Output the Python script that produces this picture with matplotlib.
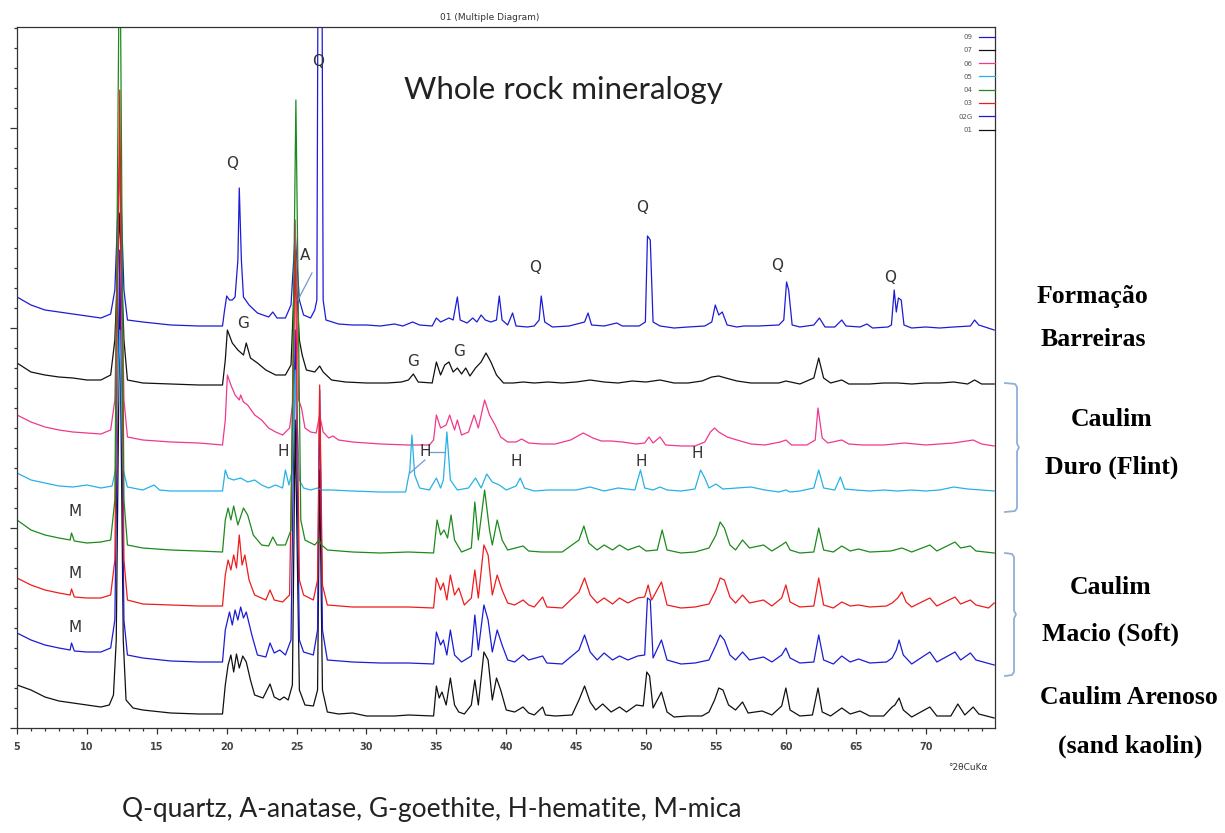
import matplotlib
matplotlib.use("Agg")
import matplotlib.pyplot as plt
from matplotlib.ticker import MultipleLocator
from matplotlib.lines import Line2D

# (2theta, intensity) vertices, top to bottom
scan_09 = [(5, 431), (6, 423), (7, 418), (8, 416), (9, 414), (10, 412), (11, 410), (11.7, 414), (12.0, 438), (12.35, 568),
           (12.65, 438), (12.9, 408), (14, 406), (16, 403), (18, 402), (19.7, 402), (19.85, 418), (20.0, 432), (20.2, 428),
           (20.4, 428), (20.6, 431), (20.8, 468), (20.9, 540), (21.05, 468), (21.2, 431), (21.6, 423), (22.2, 415), (23, 411),
           (23.3, 416), (23.6, 410), (24.2, 410), (24.6, 423), (24.9, 493), (25.2, 428), (25.5, 413), (26.0, 410), (26.3, 418),
           (26.45, 428), (26.55, 828), (26.8, 828), (26.9, 428), (27.1, 408), (28, 404), (29, 403), (30, 403), (31, 402),
           (32, 404), (32.6, 402), (33.3, 406), (33.8, 403), (34.7, 402), (35.0, 410), (35.3, 406), (35.6, 408), (35.9, 410),
           (36.2, 408), (36.5, 431), (36.7, 408), (37.2, 405), (37.6, 410), (37.9, 406), (38.2, 413), (38.5, 408), (38.9, 406),
           (39.3, 408), (39.5, 432), (39.7, 408), (40.1, 403), (40.45, 415), (40.7, 402), (41.5, 401), (42.0, 402), (42.35, 408),
           (42.5, 432), (42.75, 406), (43.3, 401), (44.5, 402), (45.6, 406), (45.85, 415), (46.1, 403), (47, 402), (47.9, 405),
           (48.3, 402), (49.5, 402), (49.95, 406), (50.1, 492), (50.3, 488), (50.5, 406), (51, 402), (52, 400), (53, 401),
           (54.2, 402), (54.7, 406), (54.95, 423), (55.2, 413), (55.45, 416), (55.8, 403), (56.5, 401), (57, 402), (58, 402),
           (59.5, 403), (59.85, 408), (60.05, 446), (60.2, 438), (60.45, 403), (61, 401), (62.0, 403), (62.4, 410), (62.8, 401),
           (63.5, 401), (64.0, 408), (64.3, 402), (65.3, 401), (65.8, 404), (66.2, 400), (67.3, 401), (67.55, 403), (67.75, 438),
           (67.9, 416), (68.05, 430), (68.25, 428), (68.45, 403), (69, 400), (70, 401), (71, 400), (72, 401), (73.2, 402),
           (73.5, 408), (73.8, 403), (74.9, 398)]

scan_07 = [(5, 365), (6, 356), (7, 353), (8, 351), (9, 350), (10, 348), (11, 348), (11.7, 353), (12.0, 388), (12.35, 515),
           (12.65, 388), (12.9, 348), (14, 345), (16, 344), (18, 343), (19.7, 343), (19.9, 368), (20.05, 398), (20.4, 385),
           (20.8, 378), (21.2, 373), (21.4, 385), (21.7, 370), (22.2, 365), (22.8, 358), (23.5, 353), (24.2, 353), (24.6, 363),
           (24.9, 468), (25.2, 388), (25.4, 373), (25.7, 358), (26.3, 356), (26.65, 362), (26.9, 356), (27.5, 348), (28.5, 346),
           (30, 345), (31.5, 345), (32.5, 346), (33.0, 348), (33.35, 354), (33.7, 346), (34.7, 345), (35.0, 366), (35.3, 353),
           (35.6, 363), (35.9, 366), (36.2, 356), (36.5, 360), (36.8, 354), (37.1, 360), (37.4, 352), (37.8, 360), (38.2, 366),
           (38.55, 375), (38.9, 366), (39.3, 353), (39.8, 345), (40.5, 345), (41.2, 346), (42, 345), (43, 346), (44, 345),
           (45, 346), (46, 348), (47, 346), (48, 345), (49, 347), (50, 346), (51, 348), (52, 345), (53, 345), (54, 347),
           (54.7, 351), (55.2, 352), (55.7, 350), (56.5, 347), (57.5, 345), (58.5, 345), (59.5, 345), (60.0, 347), (61, 344),
           (62.0, 350), (62.35, 370), (62.7, 350), (63.2, 345), (64.0, 348), (64.5, 344), (66, 344), (67, 345), (68, 345),
           (69, 344), (70, 345), (71, 345), (72, 346), (73, 344), (73.5, 348), (74, 344), (74.9, 344)]

scan_06 = [(5, 313), (6, 306), (7, 301), (8, 298), (9, 296), (10, 295), (11, 294), (11.7, 298), (12.0, 328), (12.35, 578),
           (12.65, 328), (12.9, 291), (14, 288), (16, 286), (18, 285), (19.7, 283), (19.9, 308), (20.05, 353), (20.3, 343),
           (20.6, 333), (20.9, 328), (21.0, 333), (21.2, 326), (21.5, 323), (22, 313), (22.5, 308), (23, 300), (23.5, 296),
           (24.0, 293), (24.5, 300), (24.75, 328), (24.9, 508), (25.15, 328), (25.35, 320), (25.6, 300), (26.0, 296),
           (26.4, 295), (26.65, 313), (26.9, 296), (27.3, 290), (27.6, 292), (28, 288), (29, 286), (31, 284), (33, 283),
           (34.5, 283), (34.8, 288), (35.0, 313), (35.3, 300), (35.7, 303), (35.95, 313), (36.3, 298), (36.5, 308), (36.8, 293),
           (37.3, 296), (37.7, 313), (38.0, 300), (38.45, 328), (38.8, 313), (39.2, 303), (39.6, 291), (40.1, 286), (40.7, 286),
           (41.1, 289), (41.6, 285), (42.5, 284), (43.5, 284), (44.6, 288), (45.5, 295), (46.2, 290), (46.8, 287), (47.5, 287),
           (48.3, 286), (49.3, 284), (49.9, 285), (50.2, 291), (50.5, 285), (51.0, 291), (51.4, 283), (52.5, 282), (53.5, 282),
           (54.2, 286), (54.6, 296), (54.9, 300), (55.2, 296), (55.8, 291), (56.5, 288), (57.5, 284), (58.5, 283), (59.6, 286),
           (60.0, 288), (60.4, 283), (61.5, 283), (62.1, 288), (62.3, 320), (62.6, 290), (63.0, 285), (64.0, 288), (64.5, 284),
           (65.5, 283), (67, 283), (68.5, 285), (70, 283), (72, 285), (73.4, 288), (74, 284), (74.9, 282)]

scan_05 = [(5, 255), (6, 248), (7, 245), (8, 242), (9, 241), (10, 243), (11, 240), (11.8, 242), (12.05, 258), (12.35, 398),
           (12.6, 258), (12.9, 241), (14, 238), (14.8, 243), (15.2, 238), (16, 237), (18, 237), (19.7, 237), (19.9, 258),
           (20.1, 250), (20.5, 248), (21, 250), (21.5, 246), (22, 248), (22.5, 243), (23, 240), (23.5, 243), (24.0, 240),
           (24.2, 258), (24.45, 243), (24.7, 258), (24.9, 358), (25.2, 248), (25.5, 240), (26, 238), (26.5, 240), (26.8, 238),
           (27.5, 238), (29, 237), (31, 236), (32.8, 236), (33.1, 258), (33.25, 293), (33.45, 253), (33.8, 240), (34.5, 238),
           (35.0, 250), (35.3, 240), (35.5, 248), (35.75, 296), (36.0, 248), (36.5, 238), (37.3, 240), (37.8, 250), (38.2, 240),
           (38.6, 254), (39.0, 246), (39.5, 243), (40.0, 238), (40.7, 242), (41.0, 250), (41.3, 240), (42, 237), (43, 238),
           (45, 238), (46, 241), (47, 237), (48, 240), (49.2, 238), (49.6, 258), (49.9, 240), (50.5, 238), (51.0, 241),
           (51.5, 238), (52.5, 237), (53.5, 239), (53.9, 258), (54.2, 250), (54.5, 240), (55.0, 244), (55.5, 239), (56.5, 240),
           (57.5, 241), (58.5, 238), (59.5, 236), (60.0, 238), (60.3, 236), (61, 237), (62.0, 240), (62.35, 258), (62.7, 240),
           (63.5, 238), (63.9, 251), (64.2, 239), (65, 238), (66, 237), (67, 238), (68, 237), (69, 238), (70, 237), (71, 238),
           (72, 241), (73, 239), (74, 238), (74.9, 237)]

scan_04 = [(5, 208), (6, 198), (7, 193), (8, 190), (8.8, 188), (8.9, 195), (9.1, 187), (10, 185), (11, 186), (11.7, 188),
           (12.0, 228), (12.35, 828), (12.65, 228), (12.9, 183), (14, 180), (16, 178), (18, 177), (19.7, 176), (19.9, 208),
           (20.1, 220), (20.3, 208), (20.5, 222), (20.8, 203), (21.2, 220), (21.5, 213), (21.9, 193), (22.5, 183), (23.0, 182),
           (23.3, 191), (23.6, 183), (24.2, 183), (24.6, 198), (24.95, 628), (25.3, 208), (25.6, 188), (26.3, 183), (26.6, 188),
           (26.8, 183), (27.2, 178), (29, 176), (31, 175), (33, 176), (34.8, 175), (35.05, 208), (35.3, 193), (35.55, 198),
           (35.8, 190), (36.05, 213), (36.3, 188), (36.8, 176), (37.5, 180), (37.75, 226), (38.0, 188), (38.45, 238),
           (38.8, 198), (39.0, 183), (39.35, 208), (39.7, 188), (40.1, 178), (41.2, 182), (41.6, 177), (42.5, 176), (44, 176),
           (45.2, 188), (45.55, 202), (45.9, 185), (46.5, 178), (47, 183), (47.6, 178), (48.1, 183), (48.7, 178), (49.5, 182),
           (50.0, 177), (50.8, 178), (51.15, 198), (51.5, 178), (52.5, 175), (53.5, 176), (54.5, 180), (55.0, 193), (55.3, 206),
           (55.6, 200), (56, 183), (56.4, 178), (56.9, 188), (57.4, 180), (58.4, 183), (59.0, 177), (59.7, 183), (60.0, 186),
           (60.3, 178), (61, 175), (62, 176), (62.35, 200), (62.7, 178), (63.4, 176), (64, 182), (64.6, 177), (65.2, 179),
           (66, 176), (67.5, 177), (68.3, 180), (69, 176), (70.3, 183), (70.8, 177), (72.1, 186), (72.5, 180), (73.2, 182),
           (73.6, 177), (74.9, 175)]

scan_03 = [(5, 150), (6, 143), (7, 138), (8, 135), (8.8, 133), (8.9, 139), (9.1, 131), (10, 130), (11, 130), (11.7, 133),
           (12.0, 168), (12.35, 638), (12.65, 168), (12.9, 128), (14, 124), (16, 123), (18, 122), (19.7, 122), (19.9, 153),
           (20.1, 168), (20.3, 158), (20.5, 173), (20.7, 160), (20.9, 193), (21.1, 163), (21.3, 173), (21.6, 148), (22, 133),
           (22.8, 128), (23.1, 138), (23.4, 128), (24.0, 126), (24.5, 133), (24.9, 478), (25.2, 148), (25.5, 133), (26.2, 128),
           (26.5, 148), (26.65, 343), (26.85, 143), (27.2, 123), (29, 121), (31, 121), (33, 121), (34.8, 120), (35.0, 150),
           (35.3, 138), (35.5, 145), (35.75, 128), (36.0, 153), (36.3, 133), (36.6, 140), (37.0, 123), (37.5, 130), (37.75, 158),
           (38.0, 130), (38.4, 183), (38.7, 173), (39.0, 133), (39.35, 153), (39.7, 138), (40.1, 125), (40.6, 123), (41.2, 128),
           (41.6, 123), (42.0, 121), (42.6, 131), (42.9, 121), (44, 120), (45.2, 136), (45.6, 150), (46, 133), (46.5, 125),
           (47, 130), (47.6, 124), (48.1, 130), (48.7, 125), (49.4, 130), (49.9, 131), (50.15, 143), (50.4, 128), (51.1, 146),
           (51.5, 123), (52.5, 120), (53.5, 121), (54.5, 124), (55.0, 138), (55.3, 150), (55.6, 148), (56, 131), (56.4, 125),
           (56.9, 133), (57.4, 125), (58.4, 128), (59.0, 122), (59.7, 130), (60.0, 143), (60.3, 126), (61, 121), (62, 122),
           (62.35, 150), (62.7, 123), (63.4, 120), (64, 126), (64.6, 122), (65.2, 123), (66, 121), (67.2, 122), (67.6, 125),
           (68.0, 130), (68.3, 136), (68.6, 126), (69, 121), (70.3, 130), (70.8, 122), (72.1, 131), (72.5, 124), (73.2, 128),
           (73.6, 123), (74.5, 120), (74.9, 125)]

scan_02G = [(5, 95), (6, 88), (7, 83), (8, 80), (8.8, 78), (8.9, 85), (9.1, 77), (10, 76), (11, 76), (11.7, 80), (12.0, 108),
            (12.35, 478), (12.65, 108), (12.9, 73), (14, 70), (16, 67), (18, 66), (19.7, 66), (19.9, 98), (20.2, 116),
            (20.4, 103), (20.6, 118), (20.8, 108), (21.0, 121), (21.2, 110), (21.4, 116), (21.8, 93), (22.2, 73), (22.8, 71),
            (23.1, 85), (23.4, 75), (23.8, 78), (24.2, 73), (24.6, 88), (24.9, 398), (25.2, 88), (25.5, 76), (26.2, 73),
            (26.5, 98), (26.65, 338), (26.85, 98), (27.2, 68), (29, 66), (31, 65), (33, 65), (34.8, 64), (35.0, 96), (35.3, 83),
            (35.5, 88), (35.75, 73), (36.0, 98), (36.3, 73), (36.8, 66), (37.5, 72), (37.75, 113), (38.0, 78), (38.4, 123),
            (38.7, 108), (39.0, 76), (39.35, 98), (39.7, 83), (40.1, 68), (40.6, 66), (41.2, 73), (41.6, 68), (42.6, 72),
            (42.9, 65), (44, 64), (45.2, 78), (45.6, 93), (46, 76), (46.5, 68), (47, 75), (47.6, 68), (48.1, 72), (48.7, 68),
            (49.4, 72), (49.9, 73), (50.1, 130), (50.3, 128), (50.5, 70), (51.1, 88), (51.5, 68), (52.5, 64), (53.5, 65),
            (54.5, 68), (55.0, 83), (55.3, 93), (55.6, 88), (56, 73), (56.4, 68), (56.9, 76), (57.4, 68), (58.4, 71), (59.0, 66),
            (59.7, 73), (60.0, 80), (60.3, 70), (61, 65), (62, 66), (62.35, 93), (62.7, 68), (63.4, 64), (64, 72), (64.6, 66),
            (65.2, 69), (66, 65), (67.2, 66), (67.6, 70), (67.9, 78), (68.1, 88), (68.4, 73), (69, 64), (70.3, 76), (70.8, 66),
            (72.1, 76), (72.5, 68), (73.2, 75), (73.6, 68), (74.9, 63)]

scan_01 = [(5, 43), (6, 38), (7, 31), (8, 27), (9, 25), (10, 23), (11, 21), (11.6, 23), (11.9, 33), (12.1, 88), (12.35, 428),
           (12.6, 88), (12.8, 28), (13.3, 20), (14, 18), (16, 15), (18, 14), (19.7, 14), (19.9, 43), (20.1, 63), (20.3, 73),
           (20.5, 56), (20.7, 74), (20.9, 60), (21.15, 72), (21.4, 66), (21.7, 48), (22, 33), (22.6, 30), (23.1, 44), (23.4, 31),
           (23.8, 28), (24.1, 31), (24.4, 28), (24.7, 43), (24.9, 308), (25.2, 38), (25.6, 23), (26.2, 22), (26.5, 38),
           (26.65, 258), (26.85, 38), (27.2, 16), (28, 14), (29, 15), (30, 12), (32, 12), (33, 13), (34.8, 12), (35.0, 42),
           (35.2, 30), (35.4, 36), (35.7, 23), (36.0, 50), (36.3, 23), (36.6, 16), (37.0, 14), (37.5, 23), (37.75, 48),
           (38.0, 23), (38.4, 76), (38.7, 68), (39.0, 28), (39.3, 50), (39.6, 38), (40.0, 18), (40.6, 16), (41.2, 21),
           (41.6, 15), (42.0, 13), (42.6, 21), (42.8, 13), (43.5, 12), (44.7, 13), (45.2, 28), (45.6, 42), (46.0, 26),
           (46.4, 18), (46.9, 24), (47.5, 16), (48.1, 21), (48.6, 16), (49.3, 23), (49.8, 22), (50.05, 56), (50.25, 52),
           (50.5, 20), (51.1, 36), (51.5, 16), (52, 11), (53, 12), (54, 12), (54.5, 16), (54.9, 28), (55.2, 40), (55.5, 38),
           (55.9, 23), (56.4, 18), (56.9, 26), (57.3, 15), (58.3, 17), (59.0, 13), (59.7, 22), (60.0, 40), (60.3, 18), (61, 12),
           (61.9, 13), (62.3, 40), (62.6, 16), (63.2, 12), (64, 20), (64.6, 14), (65.3, 17), (66, 12), (67, 12), (67.6, 21),
           (67.8, 23), (68.1, 30), (68.4, 18), (69, 11), (70.3, 21), (70.8, 12), (71.8, 12), (72.3, 24), (72.8, 13), (73.4, 21),
           (73.8, 14), (74.9, 10)]

scan_names = ["09", "07", "06", "05", "04", "03", "02G", "01"]
scan_colors = ["#1c1cd6", "#111111", "#f0388c", "#27b1e6", "#1d8a1d", "#ee1c1c", "#1c1cd6", "#111111"]
scans = [scan_09, scan_07, scan_06, scan_05, scan_04, scan_03, scan_02G, scan_01]
draw_order = [7, 6, 0, 1, 2, 3, 5, 4]

# mineral peak labels: (letter, 2theta, intensity)
peak_labels = [("Q", 20.38, 565), ("Q", 26.53, 666), ("Q", 42.05, 460), ("Q", 49.71, 520), ("Q", 59.36, 463),
               ("Q", 67.45, 451), ("G", 21.17, 405), ("G", 33.33, 366), ("G", 36.62, 376), ("A", 25.6, 473),
               ("H", 24.03, 277), ("H", 34.18, 276), ("H", 40.69, 266), ("H", 49.64, 266), ("H", 53.64, 275),
               ("M", 9.15, 217), ("M", 9.15, 155), ("M", 9.15, 101)]

group_labels = [("Formação", 1092, 296), ("Barreiras", 1093, 340), ("Caulim", 1112, 420), ("Duro (Flint)", 1112, 467),
                ("Caulim", 1111, 587), ("Macio (Soft)", 1110, 634), ("Caulim Arenoso", 1129, 698),
                ("(sand kaolin)", 1130, 746)]

W, H = 1225, 833
fig = plt.figure(figsize=(W / 100, H / 100), dpi=100)
ax = fig.add_axes([17 / W, 1 - 728 / H, (995 - 17) / W, (728 - 27) / H])

lines = {}
for i in draw_order:
    tt = [p[0] for p in scans[i]]
    inten = [p[1] for p in scans[i]]
    (ln,) = ax.plot(tt, inten, color=scan_colors[i], lw=0.9)
    lines[i] = ln

ax.set_xlim(5, 74.96)
ax.set_ylim(0, 701)
ax.xaxis.set_major_locator(MultipleLocator(5))
ax.xaxis.set_minor_locator(MultipleLocator(1))
ax.yaxis.set_major_locator(MultipleLocator(200))
ax.yaxis.set_minor_locator(MultipleLocator(20))
ax.tick_params(axis="both", which="both", direction="out", color="#333333", width=0.9)
ax.tick_params(axis="x", which="major", length=4, labelsize=7, labelcolor="#444444", pad=6)
ax.tick_params(axis="x", which="minor", length=2.5)
ax.tick_params(axis="y", which="major", length=5, labelleft=False)
ax.tick_params(axis="y", which="minor", length=2.5)
ax.set_xticks(range(5, 75, 5), [str(v) for v in range(5, 75, 5)], fontweight="bold")
for sp in ax.spines.values():
    sp.set_color("#333333")
    sp.set_linewidth(0.9)

ax.legend([lines[i] for i in range(8)], scan_names, loc="upper right", bbox_to_anchor=(1.0, 0.99),
          markerfirst=False, frameon=False, fontsize=5, labelcolor="#555555", handlelength=2.3,
          handletextpad=0.9, labelspacing=1.05, borderpad=0, borderaxespad=0)

for letter, tt, inten in peak_labels:
    ax.text(tt, inten, letter, fontsize=11, color="#333333", ha="center", va="center")

lead = "#6f9bd1"
ax.plot([26.1, 25.1], [455, 428], color=lead, lw=0.9)
ax.plot([33.11, 34.18], [255, 268], color=lead, lw=0.9)
ax.plot([34.54, 35.62], [276, 276], color=lead, lw=0.9)

fig.text(490 / W, 1 - 18 / H, "01 (Multiple Diagram)", fontsize=6.5, color="#333333", ha="center", va="center")
fig.text(563 / W, 1 - 90 / H, "Whole rock mineralogy", family="Lato", fontsize=22.5, color="#222222",
         ha="center", va="center")
fig.text(968 / W, 1 - 768 / H, "°2θCuKα", fontsize=6.5, color="#333333", ha="center", va="center")
fig.text(432 / W, 1 - 810 / H, "Q-quartz, A-anatase, G-goethite, H-hematite, M-mica", family="Lato",
         fontsize=19, color="#222222", ha="center", va="center")

for txt, px, py in group_labels:
    fig.text(px / W, 1 - py / H, txt, family="Liberation Serif", fontweight="bold", fontsize=18.5,
             ha="center", va="center")

# braces next to the kaolin groups
brace = "#8fafd8"
for top, bot, xr in [(383, 512, 1017), (553, 676, 1014)]:
    mid = (top + bot) / 2
    bx = [1005, xr - 2, xr, xr, xr + 2, xr, xr, xr - 2, 1005]
    by = [top, top + 1, top + 4, mid - 4, mid, mid + 4, bot - 4, bot - 1, bot]
    fig.add_artist(Line2D([x / W for x in bx], [1 - y / H for y in by], color=brace, lw=1.3))

fig.savefig("out.png", dpi=100)
